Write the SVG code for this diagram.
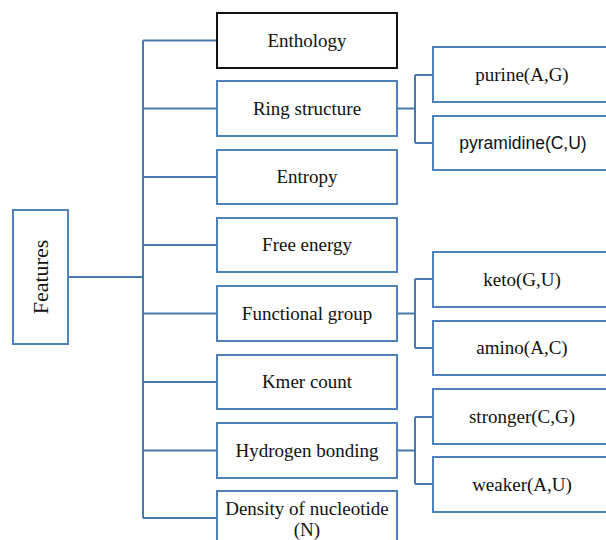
<svg xmlns="http://www.w3.org/2000/svg" width="606" height="540" viewBox="0 0 606 540">
<style>
.box{fill:#fff;stroke:#4f81bd;stroke-width:2}
.bk{fill:#fff;stroke:#111;stroke-width:2}
.t{font-family:"Liberation Serif","Times New Roman",serif;font-size:19px;fill:#111;text-anchor:middle}
.s{font-family:"Liberation Sans",Arial,sans-serif;font-size:17.5px;fill:#111;text-anchor:middle}
.c{fill:none;stroke:#4a79ad;stroke-width:2}
</style>
<rect width="606" height="540" fill="#fff"/>
<g id="connectors">
<path class="c" d="M143 40.5V518M143 40.5H217M143 108.5H217M143 177H217M143 245H217M143 313.5H217M143 382H217M143 450.5H217M143 518H217M68 277H143"/>
<path class="c" d="M397 108.5H415M415 75V143M415 75H433M415 143H433"/>
<path class="c" d="M397 313.5H415M415 279V348M415 279H433M415 348H433"/>
<path class="c" d="M397 450.5H415M415 417V484M415 417H433M415 484H433"/>
</g>
<g id="features"><rect class="box" x="13" y="210" width="55" height="134"/><text class="t" style="font-size:22px" transform="translate(48 277) rotate(-90)">Features</text></g>
<g id="enthology"><rect class="bk" x="217" y="13" width="180" height="55"/><text class="t" x="307" y="47">Enthology</text></g>
<g id="ring"><rect class="box" x="217" y="81" width="180" height="55"/><text class="t" x="307" y="115">Ring structure</text></g>
<g id="entropy"><rect class="box" x="217" y="150" width="180" height="54"/><text class="t" x="307" y="183">Entropy</text></g>
<g id="free"><rect class="box" x="217" y="218" width="180" height="54"/><text class="t" x="307" y="251">Free energy</text></g>
<g id="functional"><rect class="box" x="217" y="286" width="180" height="55"/><text class="t" x="307" y="320">Functional group</text></g>
<g id="kmer"><rect class="box" x="217" y="355" width="180" height="54"/><text class="t" x="307" y="388">Kmer count</text></g>
<g id="hydrogen"><rect class="box" x="217" y="423" width="180" height="55"/><text class="t" x="307" y="457">Hydrogen bonding</text></g>
<g id="density"><rect class="box" x="217" y="491" width="180" height="60"/><text class="t" x="307" y="515">Density of nucleotide</text><text class="t" x="307" y="536">(N)</text></g>
<g id="purine"><rect class="box" x="433" y="47" width="190" height="55"/><text class="t" x="522" y="81">purine(A,G)</text></g>
<g id="pyramidine"><rect class="box" x="433" y="116" width="190" height="54"/><text class="s" x="523" y="149">pyramidine(C,U)</text></g>
<g id="keto"><rect class="box" x="433" y="252" width="190" height="55"/><text class="t" x="522" y="286">keto(G,U)</text></g>
<g id="amino"><rect class="box" x="433" y="321" width="190" height="54"/><text class="t" x="522" y="354">amino(A,C)</text></g>
<g id="stronger"><rect class="box" x="433" y="389" width="190" height="55"/><text class="t" x="522" y="423">stronger(C,G)</text></g>
<g id="weaker"><rect class="box" x="433" y="457" width="190" height="55"/><text class="t" x="522" y="491">weaker(A,U)</text></g>
</svg>
